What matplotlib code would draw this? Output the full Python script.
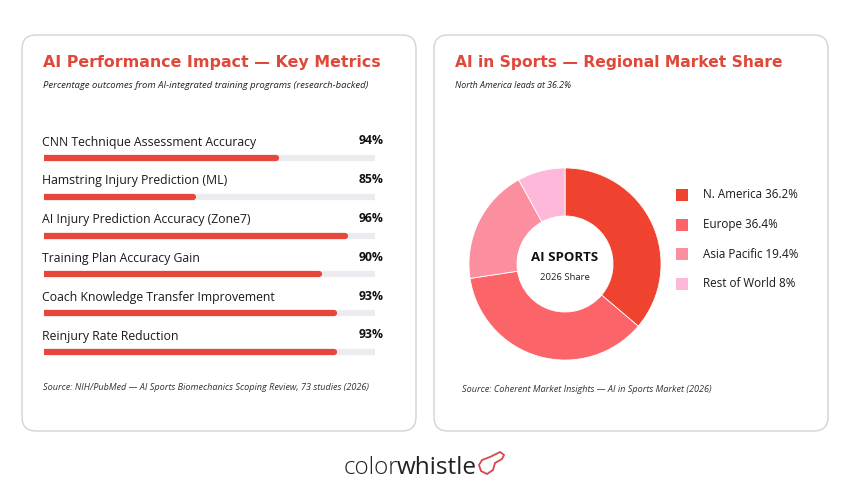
import matplotlib
matplotlib.use('Agg')
import matplotlib.pyplot as plt
from matplotlib.patches import FancyBboxPatch, Rectangle, Polygon

### DATA ###
metric_labels = ['CNN Technique Assessment Accuracy', 'Hamstring Injury Prediction (ML)',
	'AI Injury Prediction Accuracy (Zone7)', 'Training Plan Accuracy Gain',
	'Coach Knowledge Transfer Improvement', 'Reinjury Rate Reduction']
metric_values = [94, 85, 96, 90, 93, 93]
# bar fill as drawn in the picture (% of track)
metric_fill = [70, 45, 91, 83, 87.5, 87.5]

regions = ['N. America', 'Europe', 'Asia Pacific', 'Rest of World']
region_share = [36.2, 36.4, 19.4, 8]
region_colors = ['#EF4330', '#FB6469', '#FB8FA0', '#FDB8DA']

RED = '#E0483A'
BODY = 'Open Sans'
HEAD = 'DejaVu Sans'

W, H = 850, 500
fig = plt.figure(figsize=(8.5, 5), dpi=100)
fig.patch.set_facecolor('white')

def px(x0, y0, x1, y1):
	return [x0 / W, 1 - y1 / H, (x1 - x0) / W, (y1 - y0) / H]

### OVERLAY (pixel coords) ###
bg = fig.add_axes([0, 0, 1, 1])
bg.set_xlim(0, W)
bg.set_ylim(H, 0)
bg.axis('off')

for x0 in [22, 434]:
	bg.add_patch(FancyBboxPatch((x0, 35), 394, 396, boxstyle='round,pad=0,rounding_size=14',
		fc='white', ec='#D3D3D6', lw=1.0))

# left card texts
bg.text(43, 62, 'AI Performance Impact \u2014 Key Metrics', color=RED, fontsize=11.4,
	fontweight='bold', family=HEAD, va='center')
bg.text(43, 85, 'Percentage outcomes from AI-integrated training programs (research-backed)',
	color='#222222', fontsize=6.8, style='italic', family=BODY, va='center')
bg.text(43, 387, 'Source: NIH/PubMed \u2014 AI Sports Biomechanics Scoping Review, 73 studies (2026)',
	color='#333333', fontsize=6.6, style='italic', family=BODY, va='center')

# right card texts
bg.text(455, 62, 'AI in Sports \u2014 Regional Market Share', color=RED, fontsize=11.2,
	fontweight='bold', family=HEAD, va='center')
bg.text(455, 85, 'North America leads at 36.2%', color='#222222', fontsize=6.4,
	style='italic', family=BODY, va='center')
bg.text(462, 390, 'Source: Coherent Market Insights \u2014 AI in Sports Market (2026)',
	color='#333333', fontsize=6.6, style='italic', family=BODY, va='center')

# legend
for i, (r, s, c) in enumerate(zip(regions, region_share, region_colors)):
	y = 195 + i * 29.5
	bg.add_patch(Rectangle((676, y - 6), 12, 12, fc=c, ec='none'))
	bg.text(703, y, '%s %g%%' % (r, s), fontsize=8.4, family=BODY, color='#1a1a1a', va='center')

# logo
bg.text(398, 468, 'color', fontsize=17.5, family=BODY, fontweight='light', color='#222222',
	ha='right', va='center')
bg.text(397, 468, 'whistle', fontsize=17.5, family=BODY, fontweight='normal', color='#222222',
	ha='left', va='center')
bg.add_patch(Polygon([(481, 471), (479, 465), (482, 460), (490, 457), (500, 452), (504, 455),
	(502, 459), (495, 463), (493, 470), (487, 474)], closed=True, fc='none', ec='#D9474A', lw=1.3))

### BARS ###
bx = fig.add_axes(px(44, 119.2, 375, 371.4))
bx.set_xlim(0, 100)
bx.set_ylim(5.5, -1)
bx.axis('off')
rows = list(range(len(metric_labels)))
bx.hlines(rows, 0, 100, color='#ECECF0', lw=4.5, capstyle='round')
bx.hlines(rows, 0, metric_fill, color='#E8453C', lw=4.5, capstyle='round')
for i, (lab, v) in enumerate(zip(metric_labels, metric_values)):
	bx.text(-0.6, i - 0.41, lab, fontsize=8.8, family=BODY, color='#1a1a1a', va='center')
	bx.text(102.7, i - 0.44, '%d%%' % v, fontsize=8.8, family=BODY, fontweight='bold',
		color='#111111', va='center', ha='right')

### DONUT ###
dx = fig.add_axes(px(468, 167, 662, 361))
dx.pie(region_share, colors=region_colors, startangle=90, counterclock=False, radius=1,
	wedgeprops=dict(width=0.5, edgecolor='white', linewidth=0.6))
dx.set_xlim(-1.01, 1.01)
dx.set_ylim(-1.01, 1.01)
dx.text(0, 0.07, 'AI SPORTS', ha='center', va='center', fontsize=9.5, fontweight='bold',
	family=BODY, color='#111111')
dx.text(0, -0.14, '2026 Share', ha='center', va='center', fontsize=6.8, family=BODY,
	color='#222222')

fig.savefig('out.png', dpi=100, facecolor='white')
